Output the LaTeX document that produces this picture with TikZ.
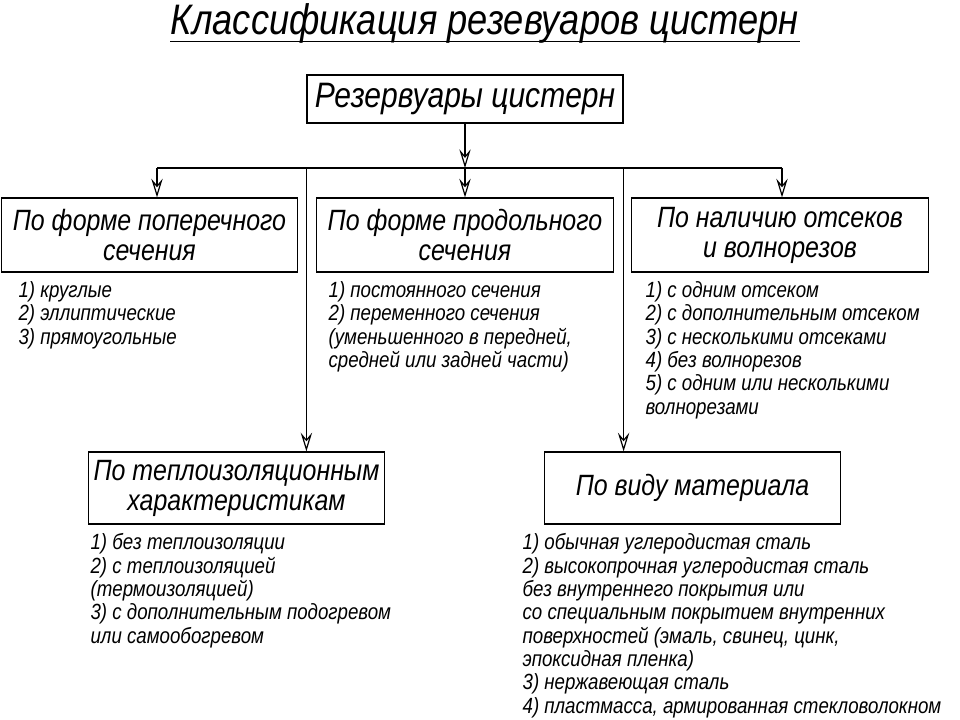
\documentclass[tikz,border=0pt]{standalone}
\usepackage{fontspec}
\setmainfont{Liberation Sans}[FakeStretch=0.85]
\usetikzlibrary{calc,positioning,arrows.meta}

\begin{document}
\begin{tikzpicture}[
  x=0.75pt, y=-0.75pt,
  line width=0.9pt,
  every node/.style={inner sep=0pt},
  box/.style={draw, minimum width=222.5pt, minimum height=55.5pt, align=center,
    font=\fontsize{22}{22.5}\selectfont\itshape},
  lowbox/.style={box, minimum height=54pt},
  lst/.style={anchor=north west, align=left, font=\fontsize{16.5}{17.5}\selectfont\itshape},
  arr/.style={-{Stealth[open,length=14pt,width=8.5pt,inset=5pt]}},
  ]
  \useasboundingbox (0,0) rectangle (960,720);

  \node[font=\fontsize{32}{32}\selectfont\itshape] (title) at (485,23) {Классификация резевуаров цистерн};
  \draw ([yshift=1.5pt]title.south west) -- ([yshift=1.5pt]title.south east);

  \node[draw, minimum width=237pt, minimum height=36pt, font=\fontsize{26.5}{27}\selectfont\itshape]
    (root) at (465,99) {Резервуары цистерн};

  \node[box] (form1) at (149.5,235) {По форме поперечного\\сечения};
  \node[box] (form2) at (465,235) {По форме продольного\\сечения};
  \node[box] (sect) at (780,235) {По наличию отсеков\\и волнорезов};
  \node[lowbox] (heat) at (236.5,488) {По теплоизоляционным\\характеристикам};
  \node[lowbox] (mat) at (692.5,488) {По виду материала};

  \coordinate (busL) at (157,168);
  \coordinate (busR) at (782,168);

  \draw (busL) -- (busR);
  \draw[arr] (root.south) -- (root.south |- busL);
  \draw[arr] (busL) -- (busL |- form1.north);
  \draw[arr] (root.south |- busL) -- (form2.north);
  \draw[arr] (busR) -- (busR |- sect.north);
  \draw[arr] (root.south west |- busL) -- (root.south west |- heat.north);
  \draw[arr] (root.south east |- busL) -- (root.south east |- mat.north);

  \node[lst] (list1) at (18,281) {1) круглые\\2) эллиптические\\3) прямоугольные};
  \node[lst] (list2) at (328,281) {1) постоянного сечения\\2) переменного сечения\\(уменьшенного в передней,\\средней или задней части)};
  \node[lst] (list3) at (645,281) {1) с одним отсеком\\2) с дополнительным отсеком\\3) с несколькими отсеками\\4) без волнорезов\\5) с одним или несколькими\\волнорезами};
  \node[lst] (list4) at (90,533) {1) без теплоизоляции\\2) с теплоизоляцией\\(термоизоляцией)\\3) с дополнительным подогревом\\или самообогревом};
  \node[lst] (list5) at (522,533) {1) обычная углеродистая сталь\\2) высокопрочная углеродистая сталь\\без внутреннего покрытия или\\со специальным покрытием внутренних\\поверхностей (эмаль, свинец, цинк,\\эпоксидная пленка)\\3) нержавеющая сталь\\4) пластмасса, армированная стекловолокном};

\end{tikzpicture}
\end{document}
